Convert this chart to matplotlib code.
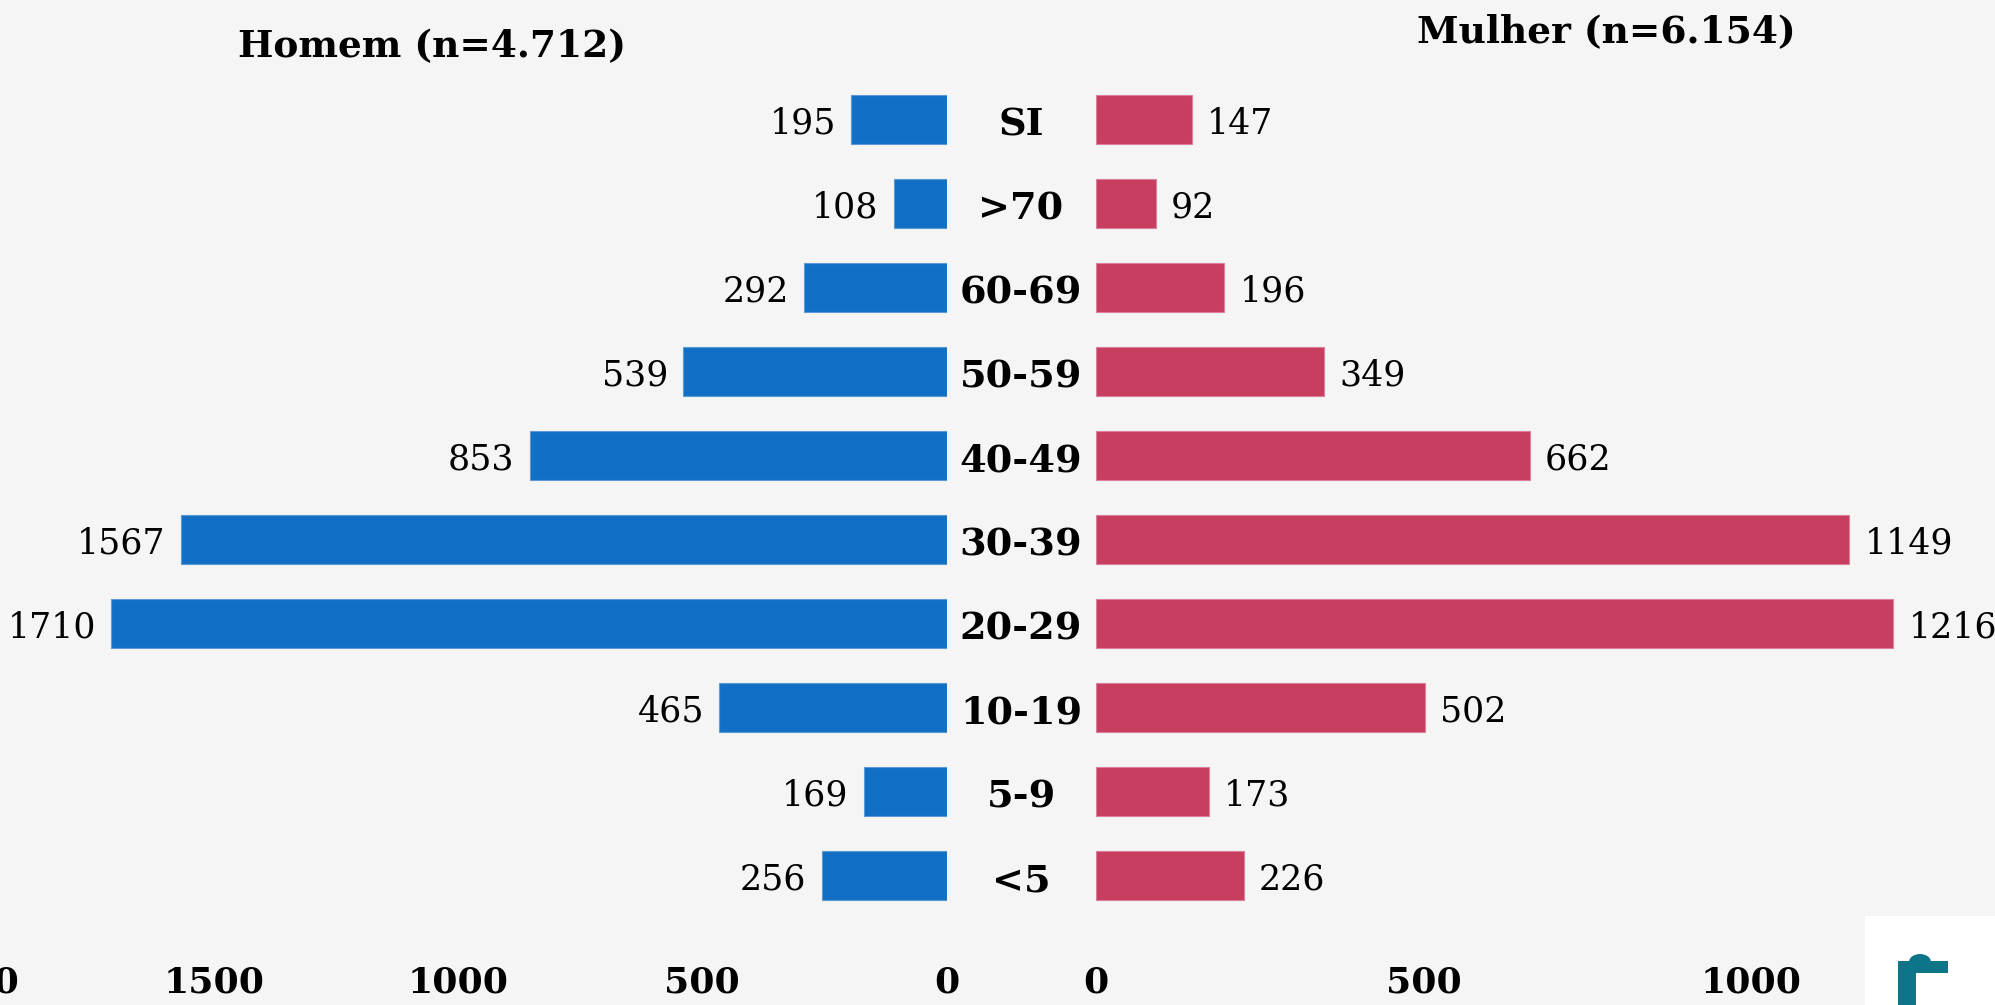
import matplotlib
matplotlib.use("Agg")
import matplotlib.pyplot as plt
import matplotlib.transforms as mtransforms
from matplotlib.patches import Rectangle, Ellipse

categories = ["<5", "5-9", "10-19", "20-29", "30-39", "40-49", "50-59", "60-69", ">70", "SI"]
homem = [256, 169, 465, 1710, 1567, 853, 539, 292, 108, 195]
mulher = [226, 173, 502, 1216, 1149, 662, 349, 196, 92, 147]
left_ticks = [0, 500, 1000, 1500, 2000]
right_ticks = [0, 500, 1000]
title_h = "Homem (n=4.712)"
title_m = "Mulher (n=6.154)"

BLUE = "#1170C6"
RED = "#C73E61"
BG = "#F5F5F5"
FONT = "DejaVu Serif"

W, H = 1995, 1005
fig = plt.figure(figsize=(W / 100, H / 100), dpi=100, facecolor=BG)

y0_px = 87.7
y1_px = 927.4
ylim = (-0.5, 9.5)

# left axes (men): 0 at 946.6 px, 0.4886 px per unit
lmax = 2000
lscale = 0.4886
lwidth = lmax * lscale
lleft = 946.6 - lwidth
axl = fig.add_axes([lleft / W, y0_px / H, lwidth / W, (y1_px - y0_px) / H])
# right axes (women): 0 at 1095.5 px, 0.656 px per unit
rscale = 0.656
rleft = 1095.5
rwidth = W - rleft
axr = fig.add_axes([rleft / W, y0_px / H, rwidth / W, (y1_px - y0_px) / H])

y = list(range(len(categories)))
axl.barh(y, homem, height=0.58, color=BLUE, edgecolor="#5c9ad6", linewidth=0.8)
axr.barh(y, mulher, height=0.58, color=RED, edgecolor="#dd7f97", linewidth=0.8)

axl.set_xlim(0, lmax)
axl.invert_xaxis()
axr.set_xlim(0, rwidth / rscale)
for ax, ticks in ((axl, left_ticks), (axr, right_ticks)):
    ax.set_ylim(*ylim)
    ax.set_facecolor("none")
    for s in ax.spines.values():
        s.set_visible(False)
    ax.set_yticks([])
    ax.set_xticks(ticks)
    ax.set_xticklabels([str(t) for t in ticks], fontfamily=FONT, fontweight="bold", fontsize=26)
    ax.tick_params(axis="x", length=0, pad=35)

for yi, v in zip(y, homem):
    axl.annotate(str(v), (v, yi), xytext=(-11, -3), textcoords="offset points",
                 ha="right", va="center", fontfamily=FONT, fontsize=25)
for yi, v in zip(y, mulher):
    axr.annotate(str(v), (v, yi), xytext=(11, -3), textcoords="offset points",
                 ha="left", va="center", fontfamily=FONT, fontsize=25)

trans = mtransforms.blended_transform_factory(fig.transFigure, axl.transData)
trans = trans + mtransforms.ScaledTranslation(0, -4 / 72, fig.dpi_scale_trans)
for yi, c in zip(y, categories):
    fig.text(1021 / W, yi, c, transform=trans, ha="center", va="center",
             fontfamily=FONT, fontweight="bold", fontsize=27.5)

fig.text(432 / W, 1 - 47 / H, title_h, ha="center", va="center",
         fontfamily=FONT, fontweight="bold", fontsize=27)
fig.text(1606 / W, 1 - 32 / H, title_m, ha="center", va="center",
         fontfamily=FONT, fontweight="bold", fontsize=27)

# logo box at bottom right
fig.patches.append(Rectangle((1865 / W, 0), (W - 1865) / W, 89 / H,
                             transform=fig.transFigure, facecolor="white", edgecolor="none"))
fig.patches.append(Ellipse((1920 / W, 1 - 962 / H), 22 / W, 16 / H,
                           transform=fig.transFigure, facecolor="#0E7488", edgecolor="none"))
fig.patches.append(Rectangle((1898 / W, 0), 18 / W, 32 / H,
                             transform=fig.transFigure, facecolor="#0E7488", edgecolor="none"))
fig.patches.append(Rectangle((1898 / W, 32 / H), 50 / W, 12 / H,
                             transform=fig.transFigure, facecolor="#0E7488", edgecolor="none"))

fig.savefig("out.png", dpi=100, facecolor=BG)
